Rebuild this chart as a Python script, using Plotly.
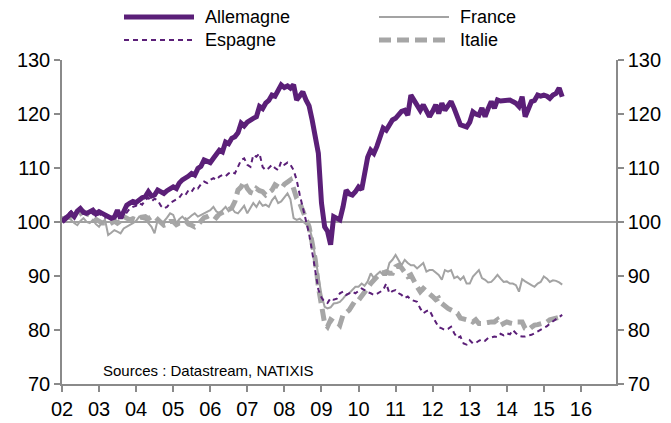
import pandas as pd
import plotly.graph_objects as go

# Monthly data, Jan 2002 - Jul 2015 (index, 100 = start)
dates = pd.date_range("2002-01-01", periods=163, freq="MS")

allemagne = [
    100.0, 100.5, 101.2, 101.6, 101.0, 102.0, 102.5, 101.8, 101.6, 102.0, 102.2, 101.5,
    101.9, 101.6, 101.3, 101.0, 100.7, 100.9, 102.2, 100.7, 101.8, 103.1, 103.5, 103.8,
    103.6, 104.1, 104.5, 104.7, 105.6, 104.8, 105.0, 105.9, 105.5, 105.3, 105.8, 106.2,
    106.5, 106.2, 107.2, 107.8, 108.1, 108.5, 109.0, 108.7, 109.9, 110.3, 111.5, 111.2,
    111.0, 111.8, 112.5, 113.3, 113.0, 114.8, 114.5, 115.5, 115.8, 116.5, 118.3, 117.8,
    118.5, 119.0, 119.2, 119.5, 121.4, 121.0, 122.0, 122.5, 123.5, 123.3, 124.2, 125.4,
    124.9, 125.2, 124.8, 125.4, 122.6, 123.2, 124.1, 122.6, 121.5, 118.9, 116.0, 112.7,
    103.5, 99.1, 98.3, 95.8, 101.0, 100.6, 100.4, 102.8, 105.9, 105.2, 105.0, 105.6,
    106.5, 106.0, 109.0, 112.0, 113.3, 112.7, 114.0, 115.5, 117.4, 117.0, 118.0, 118.9,
    119.2, 120.1, 120.5, 120.7, 119.8, 123.5, 122.6, 121.5, 120.7, 121.7, 120.5, 119.5,
    120.5, 121.7, 120.1, 122.0, 120.7, 121.5, 122.3, 121.0, 119.2, 118.0, 117.8, 117.6,
    118.5, 120.4, 120.0, 119.8, 121.1, 119.5, 121.0, 122.3, 121.1, 122.6, 122.4, 122.5,
    122.5, 122.6, 122.3, 122.0, 121.4, 123.2, 119.5, 121.0, 122.3, 122.5, 123.5, 123.3,
    123.5, 123.3, 122.9, 123.5, 123.8, 124.8, 123.2,
]

espagne = [
    100.5, 101.0, 101.5, 102.0, 101.5, 101.8, 102.2, 101.5, 101.8, 102.0, 101.5, 101.0,
    101.5, 101.2, 100.8, 101.0, 100.5, 100.8, 101.2, 101.5, 101.0, 101.8, 102.5, 102.8,
    103.0, 103.5, 103.2, 104.1, 104.5, 103.8, 104.3, 104.0, 103.0, 102.5, 102.8, 103.5,
    103.8, 104.1, 104.5, 105.3, 105.0, 105.9, 105.6, 106.5, 106.2, 107.0, 107.5, 107.2,
    107.8, 108.1, 107.8, 108.4, 108.7, 108.5, 109.0, 109.3, 109.0, 110.2, 111.5, 111.8,
    110.6, 110.2, 112.4, 112.1, 112.7, 110.2, 109.6, 110.0, 110.6, 110.0, 109.6, 111.2,
    110.6, 111.0, 110.6, 109.6, 107.8, 105.0, 102.5, 99.8, 97.8, 94.5, 91.0, 87.5,
    86.0, 85.2, 85.0, 85.9, 85.6, 85.8, 86.8, 87.1, 86.5, 86.8, 87.1, 86.8,
    87.2, 87.7, 87.4, 87.0, 86.8, 86.5, 86.7, 87.1, 87.4, 88.6, 86.8, 87.2,
    87.4, 86.8, 86.5, 85.9, 86.2, 85.6, 85.4, 85.2, 84.0, 83.1, 83.5, 83.7,
    82.5, 81.5, 80.5, 80.3, 80.0, 80.2, 80.6, 79.4, 78.5, 78.8, 77.5, 77.3,
    78.1, 77.5, 77.6, 78.0, 78.3, 78.0, 78.5, 78.6, 78.8, 78.7, 79.3, 79.0,
    79.4, 79.2, 80.0, 79.4, 78.9, 78.8, 78.8, 79.0, 79.1, 79.4, 79.7, 80.0,
    80.3, 80.7, 81.2, 81.6, 82.0, 82.4, 82.8,
]

france = [
    101.0, 100.2, 100.8, 100.4, 99.8, 99.4, 100.2, 100.7, 100.0, 99.8, 100.4, 99.6,
    99.1, 100.0, 100.4, 97.6, 98.0, 98.5, 98.2, 97.9, 98.8, 99.1, 99.5, 99.8,
    100.2, 101.0, 100.6, 100.4, 99.8, 99.1, 97.9, 100.4, 100.0, 100.1, 100.8, 101.6,
    101.3, 99.8, 100.5, 101.0, 100.4, 100.7, 101.2, 101.6, 101.0, 101.3, 101.6, 101.9,
    102.2, 102.8, 102.0, 101.6, 102.3, 102.8, 102.0, 102.6, 101.8, 101.6, 102.3, 103.0,
    101.6, 102.5, 103.5, 102.8, 103.8, 103.0, 103.2, 102.8, 104.0, 104.7, 103.5, 103.8,
    104.5, 105.3, 104.2, 100.7, 100.4, 100.6, 100.1, 99.5, 99.1, 97.0, 93.5, 89.5,
    86.5, 84.3, 84.0, 84.2, 84.9, 85.0, 85.2, 85.8, 86.5, 86.8, 87.5, 88.0,
    88.0, 88.6, 88.2, 89.0, 90.5, 89.6, 90.3, 90.8, 90.2, 90.2, 92.4, 93.0,
    93.9, 92.8, 92.0, 93.0, 92.4, 92.0, 92.0, 91.4, 92.0, 92.4, 90.8, 91.1,
    91.1, 90.6, 90.2, 89.3, 91.1, 90.8, 91.1, 89.6, 89.9, 89.3, 89.9, 88.6,
    88.6, 89.9, 90.5, 91.1, 89.6, 89.3, 88.8, 88.9, 89.5, 90.2, 89.5, 88.9,
    89.0, 88.6, 88.6, 88.3, 87.1, 89.4, 89.0, 88.6, 88.3, 88.0, 88.6, 88.9,
    89.9, 89.5, 88.9, 89.2, 89.1, 88.8, 88.4,
]

italie = [
    100.5, 100.7, 101.0, 101.0, 101.3, 101.2, 101.5, 101.9, 101.5, 101.3, 101.0, 100.5,
    100.0, 99.8, 99.8, 99.5, 99.8, 100.2, 99.8, 100.2, 101.0, 100.8, 100.4, 100.6,
    100.4, 100.8, 101.0, 101.0, 100.6, 101.0, 101.0, 100.5, 100.0, 99.4, 99.6, 100.1,
    100.1, 99.5, 99.8, 99.8, 100.3, 99.6, 99.4, 99.1, 99.5, 100.3, 100.8, 101.0,
    101.3, 101.2, 100.8, 101.5, 101.8, 102.0, 102.2, 102.6, 103.8, 105.9, 106.5, 107.5,
    106.2, 105.5, 105.3, 106.2, 105.8, 105.6, 105.0, 105.4, 105.9, 106.9, 106.5, 106.2,
    107.0, 107.5, 107.8, 106.2, 104.4, 103.5, 102.0, 101.0, 99.1, 96.1, 93.0, 88.0,
    84.3, 81.2, 80.6, 81.9, 81.5, 81.5, 80.9, 82.8, 83.2, 83.7, 84.6, 85.5,
    85.5, 86.2, 87.1, 87.8, 88.6, 89.3, 89.9, 90.5, 90.6, 90.8, 90.5, 90.5,
    91.7, 92.0, 91.5, 90.5, 89.9, 90.2, 89.0, 88.0, 87.1, 87.7, 87.2, 86.8,
    86.2, 85.6, 85.9, 84.9, 84.4, 84.0, 83.7, 83.5, 83.1, 82.2, 82.0, 81.9,
    81.9, 81.5, 81.9, 81.2, 81.2, 81.2, 81.4, 81.5, 81.5, 81.9, 80.9, 81.2,
    81.5, 81.3, 81.2, 81.5, 81.5, 81.5, 80.3, 80.0, 80.5, 80.9, 81.0, 81.2,
    81.2, 81.5, 81.9, 82.0, 82.2, 82.4, 82.5,
]

year_ticks = pd.date_range("2002-01-01", "2016-01-01", freq="YS")
year_labels = [d.strftime("%y") for d in year_ticks]
y_ticks = [70, 80, 90, 100, 110, 120, 130]

PURPLE = "#5B1F78"
GRAY_F = "#A3A3A3"
GRAY_I = "#A6A6A6"
AXIS = "#8A8A8A"
FONT = "Liberation Sans, Arial, sans-serif"

fig = go.Figure()
fig.add_trace(go.Scatter(x=dates, y=italie, mode="lines", name="Italie",
                         line=dict(color=GRAY_I, width=5, dash="12px,6px")))
fig.add_trace(go.Scatter(x=dates, y=france, mode="lines", name="France",
                         line=dict(color=GRAY_F, width=2)))
fig.add_trace(go.Scatter(x=dates, y=espagne, mode="lines", name="Espagne",
                         line=dict(color=PURPLE, width=2, dash="5px,4px")))
fig.add_trace(go.Scatter(x=dates, y=allemagne, mode="lines", name="Allemagne",
                         line=dict(color=PURPLE, width=5)))
# invisible copy on the right axis so that the mirrored right scale is drawn
fig.add_trace(go.Scatter(x=dates, y=allemagne, mode="lines", yaxis="y2",
                         opacity=0, hoverinfo="skip", showlegend=False,
                         line=dict(color=PURPLE, width=1)))

# reference line at 100
fig.add_shape(type="line", xref="paper", x0=0, x1=1, yref="y", y0=100, y1=100,
              line=dict(color="#808080", width=1.5), layer="below")

# The page body has an 8px margin: figure is laid out 8px right/down of the window.
OFF = 8
ML, MT, PW, PH = 62 - OFF, 60 - OFF, 554, 324
FIG_W, FIG_H = 671 - OFF, 423 - OFF

def px_x(X):
    return (X - 62) / PW
def px_y(Y):
    return (384 - Y) / PH

legend_items = [
    ("Allemagne", PURPLE, 5, "solid", 124, 194, 17),
    ("Espagne", PURPLE, 2, "5px,4px", 124, 194, 40),
    ("France", GRAY_F, 2, "solid", 379, 449, 17),
    ("Italie", GRAY_I, 5, "12px,6px", 379, 449, 40),
]
for name, col, w, dash, xa, xb, yy in legend_items:
    fig.add_shape(type="line", xref="paper", yref="paper",
                  x0=px_x(xa), x1=px_x(xb), y0=px_y(yy), y1=px_y(yy),
                  line=dict(color=col, width=w, dash=dash))
    fig.add_annotation(xref="paper", yref="paper", x=px_x(xb + 9), y=px_y(yy),
                       text=name, showarrow=False, xanchor="left", yanchor="middle",
                       font=dict(family=FONT, size=18, color="#000000"))

fig.add_annotation(xref="paper", yref="paper", x=px_x(101), y=px_y(370),
                   text="Sources : Datastream, NATIXIS", showarrow=False,
                   xanchor="left", yanchor="middle",
                   font=dict(family=FONT, size=15, color="#000000"))

axis_common = dict(showline=True, linecolor=AXIS, linewidth=1.5, ticks="outside",
                   tickcolor=AXIS, tickwidth=1.5, showgrid=False, zeroline=False,
                   tickfont=dict(family=FONT, size=20, color="#000000"))

fig.update_layout(
    width=FIG_W, height=FIG_H,
    margin=dict(l=ML, r=FIG_W - ML - PW, t=MT, b=FIG_H - MT - PH, autoexpand=False),
    paper_bgcolor="white", plot_bgcolor="white",
    showlegend=False,
    xaxis=dict(type="date", range=["2002-01-01", "2016-12-12"],
               tickvals=list(year_ticks), ticktext=year_labels, ticklen=6,
               **axis_common),
    yaxis=dict(range=[70, 130], tickvals=y_ticks, ticklen=6, **axis_common),
    yaxis2=dict(range=[70, 130], tickvals=y_ticks, ticklen=6, overlaying="y",
                side="right", **axis_common),
)

fig.write_html("out.html")
